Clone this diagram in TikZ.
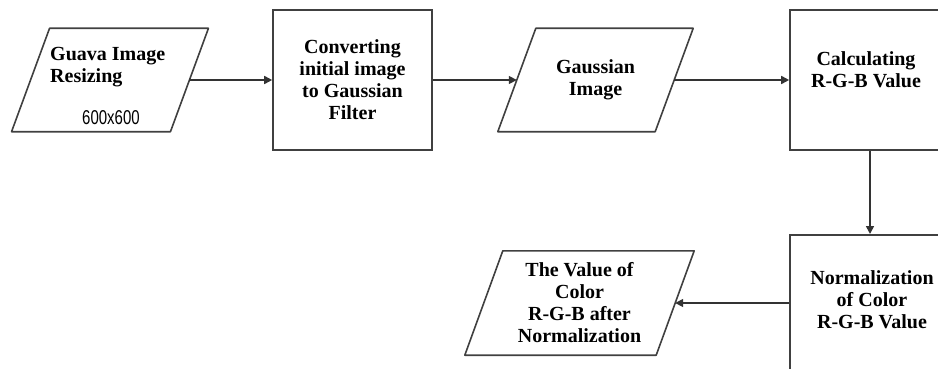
\documentclass[tikz,border=0pt]{standalone}
\usepackage{fontspec}
\setmainfont{Liberation Serif}
\newfontfamily\sizefont{Liberation Sans}
\usetikzlibrary{arrows.meta}

% Slanted outline of a data block round a named node
\newcommand\slantframe[1]{%
  \draw[dataline] ([xshift=19pt]#1.north west) -- ([xshift=19pt]#1.north east)
    -- ([xshift=-19pt]#1.south east) -- ([xshift=-19pt]#1.south west) -- cycle;}

\begin{document}
\begin{tikzpicture}[x=1pt, y=-1pt,
    % Define the styles of the flowchart blocks
    procbox/.style={draw=black!75, line width=1.6pt, minimum width=160pt, minimum height=140pt},
    databox/.style={minimum width=#1, minimum height=103pt},
    dataline/.style={draw=black!75, line width=1.6pt, line join=round},
    blocktext/.style={font=\bfseries\fontsize{20}{22}\selectfont, align=center, inner sep=0pt},
    % Define the style for the arrows
    flow/.style={-{Triangle[length=8pt, width=8pt]}, draw=black!80, line width=1.6pt}
]
\path[use as bounding box, clip] (0,0) rectangle (938,369);

% Define the block positions
\coordinate (P1) at (110,80);
\coordinate (B2) at (352.5,80);
\coordinate (P3) at (595.5,80);
\coordinate (B4) at (870,80);
\coordinate (B5) at (870,234);
\coordinate (P6) at (579.5,303);

% Draw the upper row
\node[databox=158.5pt] (p1) at (P1) {};
\slantframe{p1}
\node[blocktext, anchor=west, align=left] (t1) at (50,67) {Guava Image\\Resizing};
\node[font=\sizefont\fontsize{20}{20}\selectfont, inner sep=0pt] (s1) at (111,118) {\scalebox{0.75}[1]{600x600}};
\node[procbox, blocktext, minimum width=159pt] (b2) at (B2) {Converting\\initial image\\to Gaussian\\Filter};
\node[databox=157pt, blocktext] (p3) at (P3) {Gaussian\\Image};
\slantframe{p3}
\node[procbox] (b4) at (B4) {};
\node[blocktext] (t4) at (866,70) {Calculating\\R-G-B Value};

% Draw the lower row
\node[procbox, minimum height=160pt, anchor=north] (b5) at (B5) {};
\node[blocktext] (t5) at (872,300) {Normalization\\of Color\\R-G-B Value};
\node[databox=191pt, blocktext, minimum height=104pt] (p6) at (P6) {The Value of\\Color\\R-G-B after\\Normalization};
\slantframe{p6}

% Draw the arrows
\draw[flow] (p1) -- (b2);
\draw[flow] (b2) -- (p3);
\draw[flow] (p3) -- (b4);
\draw[flow] (b4) -- (b5);
\draw[flow] (b5.west |- p6) -- (p6);

\end{tikzpicture}
\end{document}
